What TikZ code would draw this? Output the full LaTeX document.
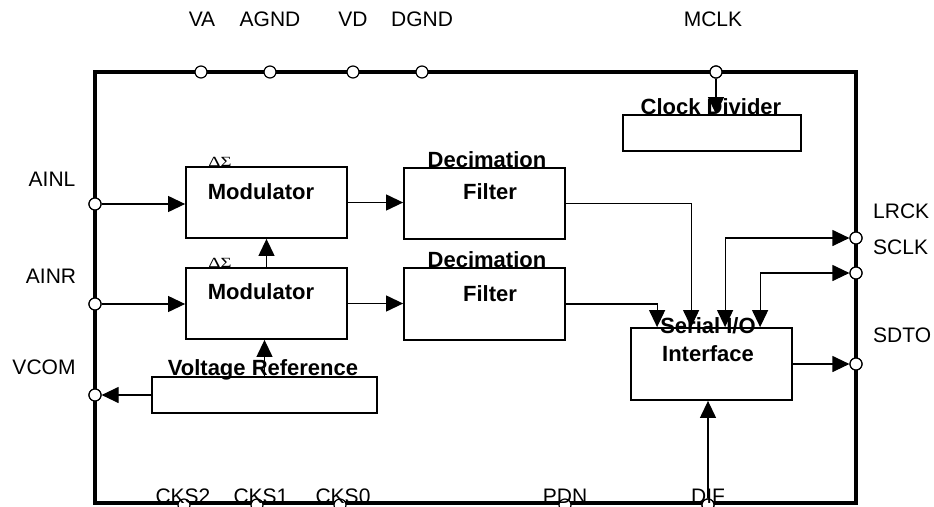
\documentclass[tikz,border=0pt]{standalone}
\usepackage{graphicx}
\usepackage{fontspec}
\setmainfont{Liberation Sans}
\newfontfamily\greekserif{Liberation Serif}
\usetikzlibrary{arrows.meta,calc}
\tikzset{
  pin/.style={circle,draw,fill=white,line width=1.2pt,minimum size=12pt,inner sep=0pt},
  blk/.style={draw,line width=1.8pt,inner sep=0pt},
  arr/.style={line width=1.2pt,-{Triangle[length=17pt,width=16pt]}},
  darr/.style={line width=1.2pt,{Triangle[length=17pt,width=16pt]}-{Triangle[length=17pt,width=16pt]}},
  lbl/.style={font=\fontsize{21}{21}\selectfont,inner sep=0pt,anchor=base},
  blbl/.style={font=\fontsize{22}{22}\selectfont\bfseries,inner sep=0pt,anchor=base},
  gs/.style={font=\fontsize{14}{14}\selectfont\greekserif,inner sep=0pt,anchor=base}
}
\begin{document}
\begin{tikzpicture}[x=1pt,y=-1pt]
\useasboundingbox (0,0) rectangle (934,506);
% outer frame
\draw[line width=4pt] (95,72) rectangle (856,503);
% blocks
\node[blk,minimum width=161pt,minimum height=71pt] (mod1) at (266.5,202.5) {};
\node[blk,minimum width=161pt,minimum height=71pt] (mod2) at (266.5,303.5) {};
\node[blk,minimum width=161pt,minimum height=71pt] (dec1) at (484.5,203.5) {};
\node[blk,minimum width=161pt,minimum height=72pt] (dec2) at (484.5,304) {};
\node[blk,minimum width=178pt,minimum height=36pt] (clk) at (712,133) {};
\node[blk,minimum width=225pt,minimum height=36pt] (vr) at (264.5,395) {};
\node[blk,minimum width=161pt,minimum height=72pt] (ser) at (711.5,364) {};
% pins
\node[pin] (va) at (201,72) {};
\node[pin] (agnd) at (270,72) {};
\node[pin] (vd) at (353,72) {};
\node[pin] (dgnd) at (422,72) {};
\node[pin] (mclk) at (716,72) {};
\node[pin] (ainl) at (95,204) {};
\node[pin] (ainr) at (95,304) {};
\node[pin] (vcom) at (95,395) {};
\node[pin] (lrck) at (856,238) {};
\node[pin] (sclk) at (856,273) {};
\node[pin] (sdto) at (856,364) {};
\node[pin] (cks2) at (184,505) {};
\node[pin] (cks1) at (257,505) {};
\node[pin] (cks0) at (340,505) {};
\node[pin] (pdn) at (565,505) {};
\node[pin] (dif) at (708,505) {};
% coordinates on serial box top
\coordinate (s1) at ($(ser.north west)+(27,0)$);
\coordinate (s2) at ($(ser.north west)+(61,0)$);
\coordinate (s3) at ($(ser.north west)+(95,0)$);
\coordinate (s4) at ($(ser.north west)+(130,0)$);
% connectors
\draw[arr] (mclk) -- (mclk |- clk.north);
\draw[arr] (ainl) -- (ainl -| mod1.west);
\draw[arr] (ainr) -- (ainr -| mod2.west);
\draw[arr] (mod1.east) -- (mod1.east -| dec1.west);
\draw[arr] (mod2.east) -- (mod2.east -| dec2.west);
\draw[arr] (mod2.north) -- (mod1.south);
\draw[arr] (vr.north) -- (vr.north |- mod2.south);
\draw[arr] (vr.west) -- (vcom);
\draw[arr] (dec1.east) -| (s2);
\draw[arr] (dec2.east) -| (s1);
\draw[darr] (s3) |- (lrck);
\draw[darr] (s4) |- (sclk);
\draw[arr] (ser.east) -- (sdto);
\draw[arr] (dif) -- (dif |- ser.south);
% redraw pins on top of connectors
\foreach \p in {mclk,ainl,ainr,vcom,lrck,sclk,sdto,dif}
  \node[pin] at (\p) {};
% block labels
\node[blbl] (tclk) at (711,114) {Clock Divider};
\node[blbl] (tm1) at (261,199) {Modulator};
\node[blbl] (tm2) at (261,299) {Modulator};
\node[gs] (g1) at (220,166) {\scalebox{1.35}[1]{ΔΣ}};
\node[gs] (g2) at (220,267) {\scalebox{1.35}[1]{ΔΣ}};
\node[blbl] (td1) at (487,167) {Decimation};
\node[blbl] (tf1) at (490,199) {Filter};
\node[blbl] (td2) at (487,267) {Decimation};
\node[blbl] (tf2) at (490,301) {Filter};
\node[blbl] (ts1) at (708,333) {Serial I/O};
\node[blbl] (ts2) at (708,361) {Interface};
\node[blbl] (tvr) at (263,375) {Voltage Reference};
% pin labels
\node[lbl] (lva) at (202,27) {VA};
\node[lbl] (lagnd) at (270,27) {AGND};
\node[lbl] (lvd) at (353,27) {VD};
\node[lbl] (ldgnd) at (422,27) {DGND};
\node[lbl] (lmclk) at (713,27) {MCLK};
\node[lbl] (lainl) at (52,186) {AINL};
\node[lbl] (lainr) at (51,283) {AINR};
\node[lbl] (lvcom) at (44,374) {VCOM};
\node[lbl,anchor=base west] (llrck) at (873,218) {LRCK};
\node[lbl,anchor=base west] (lsclk) at (873,254) {SCLK};
\node[lbl,anchor=base west] (lsdto) at (873,342) {SDTO};
\node[lbl] (lcks2) at (183,503) {CKS2};
\node[lbl] (lcks1) at (261,503) {CKS1};
\node[lbl] (lcks0) at (343,503) {CKS0};
\node[lbl] (lpdn) at (565,503) {PDN};
\node[lbl] (ldif) at (708,503) {DIF};
\end{tikzpicture}
\end{document}
